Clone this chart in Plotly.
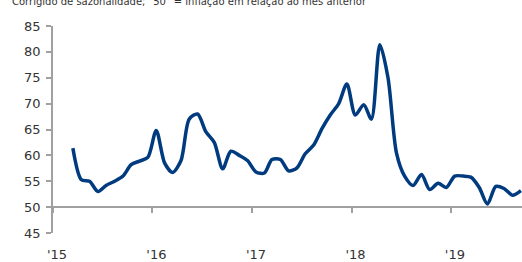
import plotly.graph_objects as go
import pandas as pd

# Monthly index values, Mar 2015 .. Sep 2019
months = pd.date_range("2015-03-01", periods=55, freq="MS") + pd.Timedelta(days=14)
values = [61.4, 55.3, 55.0, 53.0, 54.2, 55.0, 56.0, 58.2, 58.9, 59.6,
          64.8, 58.5, 56.7, 59.0, 67.0, 68.0, 64.6, 62.5, 57.4, 60.8,
          60.0, 59.0, 56.8, 56.6, 59.2, 59.2, 57.0, 57.6, 60.3, 62.0,
          65.2, 67.8, 70.0, 73.8, 67.8, 69.8, 67.0, 81.4, 75.0, 60.5,
          56.0, 54.2, 56.3, 53.4, 54.6, 53.8, 56.0, 56.0, 55.8, 53.8,
          50.6, 54.0, 53.6, 52.3, 53.2]
dates = list(months)[:len(values)]

year_ticks = ["2015-01-01", "2016-01-01", "2017-01-01", "2018-01-01", "2019-01-01"]
year_labels = ["'15", "'16", "'17", "'18", "'19"]
y_ticks = [45, 50, 55, 60, 65, 70, 75, 80, 85]

subtitle = "Corrigido de sazonalidade; \"50\" = inflação em relação ao mês anterior"

fig = go.Figure()
fig.add_trace(go.Scatter(
    x=dates, y=values, mode="lines", xaxis="x2",
    line=dict(color="#003B7F", width=3.5, shape="spline", smoothing=0.8),
    showlegend=False, hoverinfo="skip",
))
fig.add_trace(go.Scatter(
    x=dates, y=values, mode="lines", xaxis="x", opacity=0,
    line=dict(width=0), showlegend=False, hoverinfo="skip",
))

font = dict(family="DejaVu Sans", size=13, color="#333333")
xrange = ["2015-01-01", "2019-09-19"]

fig.update_layout(
    width=522, height=262,
    margin=dict(l=53, r=0, t=26, b=26),
    paper_bgcolor="white", plot_bgcolor="white",
    font=font,
    xaxis=dict(
        range=xrange, tickvals=year_ticks, ticktext=year_labels,
        showline=False, showgrid=False, zeroline=False, ticks="",
        tickfont=font, ticklabelstandoff=12, ticklabelshift=4,
    ),
    xaxis2=dict(
        overlaying="x", matches="x", anchor="free", position=0.125,
        range=xrange, tickvals=year_ticks, showticklabels=False,
        showline=True, linecolor="#A0A0A0", linewidth=1.5,
        ticks="outside", ticklen=5, tickcolor="#A0A0A0", tickwidth=1.5,
        showgrid=False, zeroline=False, layer="below traces",
    ),
    yaxis=dict(
        range=[45, 85], tickvals=y_ticks, showgrid=False, zeroline=False,
        showline=True, linecolor="#A0A0A0", linewidth=1.5,
        ticks="outside", ticklen=5, tickcolor="#A0A0A0", tickwidth=1.5,
        tickfont=font, ticklabelstandoff=3,
    ),
    annotations=[dict(
        text=subtitle, xref="paper", yref="paper", x=-0.091, y=1.081,
        xanchor="left", yanchor="bottom", showarrow=False,
        font=dict(family="DejaVu Sans", size=10, color="#333333"),
    )],
)

fig.write_html("out.html", config={"displayModeBar": False},
               post_script="document.body.style.margin='0';")
